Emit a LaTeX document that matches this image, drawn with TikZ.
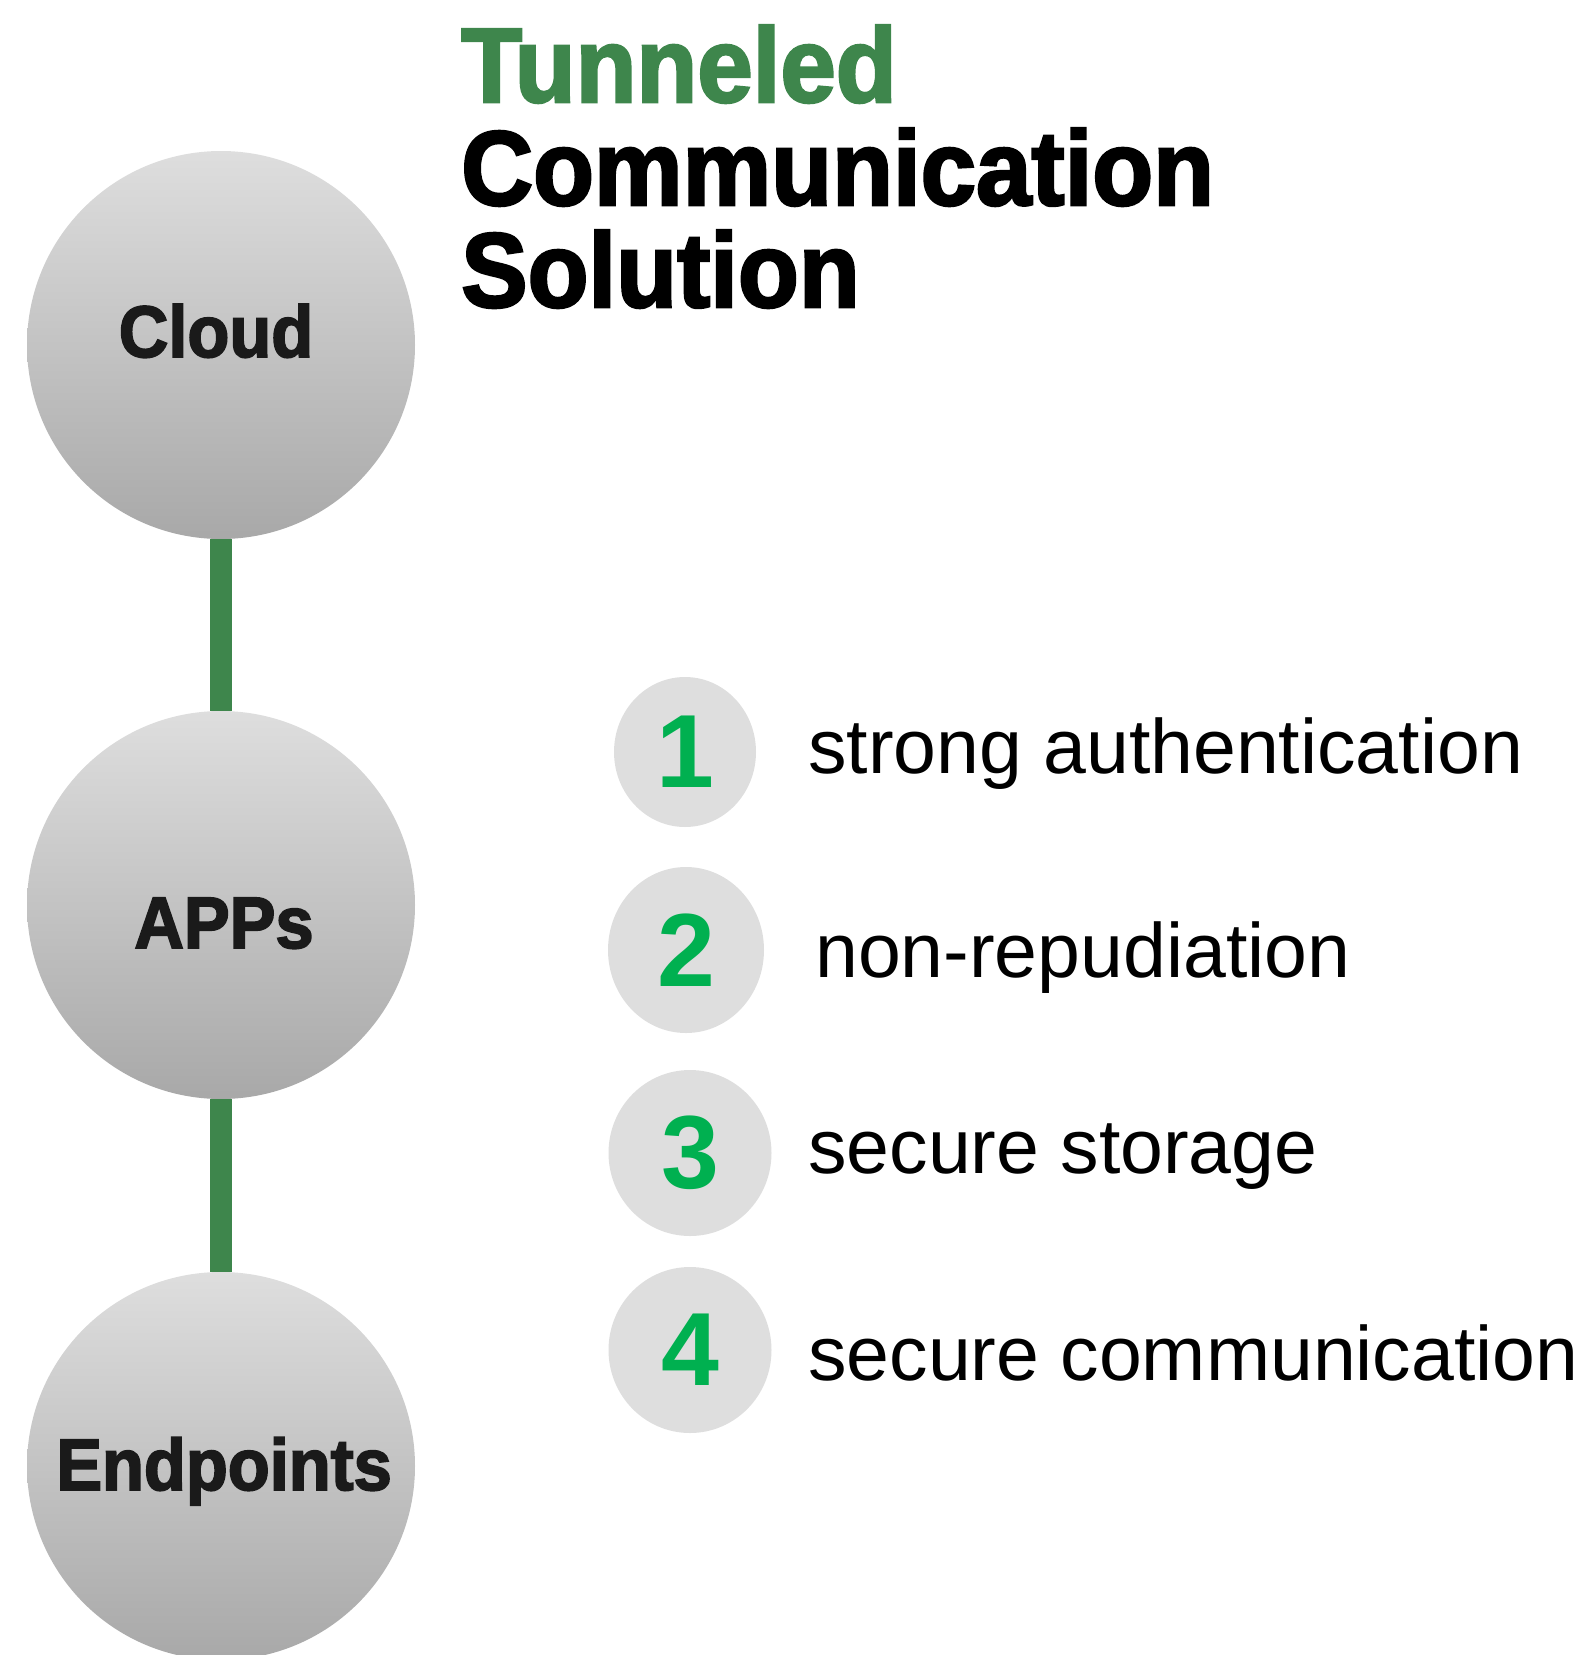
\documentclass[tikz,border=0pt]{standalone}
\usepackage{fontspec}
\setmainfont{Liberation Sans}
\newfontfamily\headfont[FakeStretch=0.94,FakeBold=2.4]{Liberation Sans}
\usetikzlibrary{shapes.geometric}

\definecolor{tunnelgreen}{HTML}{3E864C}
\definecolor{numgreen}{HTML}{00B050}
\definecolor{dotgray}{HTML}{DEDEDE}
\definecolor{labelblack}{HTML}{1A1A1A}

\begin{document}
\begin{tikzpicture}[x=1pt, y=1pt, yscale=-1,
	layer/.style={circle, minimum size=388pt, inner sep=0pt, top color=black!13, bottom color=black!34},
	layertext/.style={anchor=base, inner sep=0pt, text=labelblack, font=\headfont\bfseries\fontsize{73}{76}\selectfont},
	pipe/.style={tunnelgreen, line width=22pt},
	numdot/.style={ellipse, fill=dotgray, inner sep=0pt, text=numgreen, font=\bfseries\fontsize{104}{108}\selectfont},
	feature/.style={anchor=base west, inner sep=0pt, font=\fontsize{77}{80}\selectfont},
	headline/.style={anchor=base west, inner sep=0pt, font=\headfont\bfseries\fontsize{106}{110}\selectfont}]
	\useasboundingbox (0,0) rectangle (1588,1655);
	% title
	\node[headline, text=tunnelgreen] (t1) at (461,102) {Tunneled};
	\node[headline] (t2) at (461,205) {Communication};
	\node[headline] (t3) at (461,307) {Solution};
	% layers
	\node[layer] (cloud) at (221, 345) {};
	\node[layer] (apps)  at (221, 905) {};
	\node[layer] (endp)  at (221,1466) {};
	\draw[pipe] (cloud)--(apps);
	\draw[pipe] (apps)--(endp);
	\node[layertext] (cloudtxt) at (216, 357) {Cloud};
	\node[layertext] (appstxt)  at (224, 948) {APPs};
	\node[layertext] (endptxt)  at (224,1490) {Endpoints};
	% features
	\node[numdot, minimum width=142pt, minimum height=150pt] (d1) at (685, 752) {1};
	\node[numdot, minimum width=156pt, minimum height=166pt] (d2) at (686, 950) {2};
	\node[numdot, minimum width=163pt, minimum height=166pt] (d3) at (690,1153) {3};
	\node[numdot, minimum width=163pt, minimum height=166pt] (d4) at (690,1350) {4};
	\node[feature] (f1) at (808, 773) {strong authentication};
	\node[feature] (f2) at (815, 977) {non-repudiation};
	\node[feature] (f3) at (808,1173) {secure storage};
	\node[feature] (f4) at (808,1380) {secure communication};
\end{tikzpicture}
\end{document}
